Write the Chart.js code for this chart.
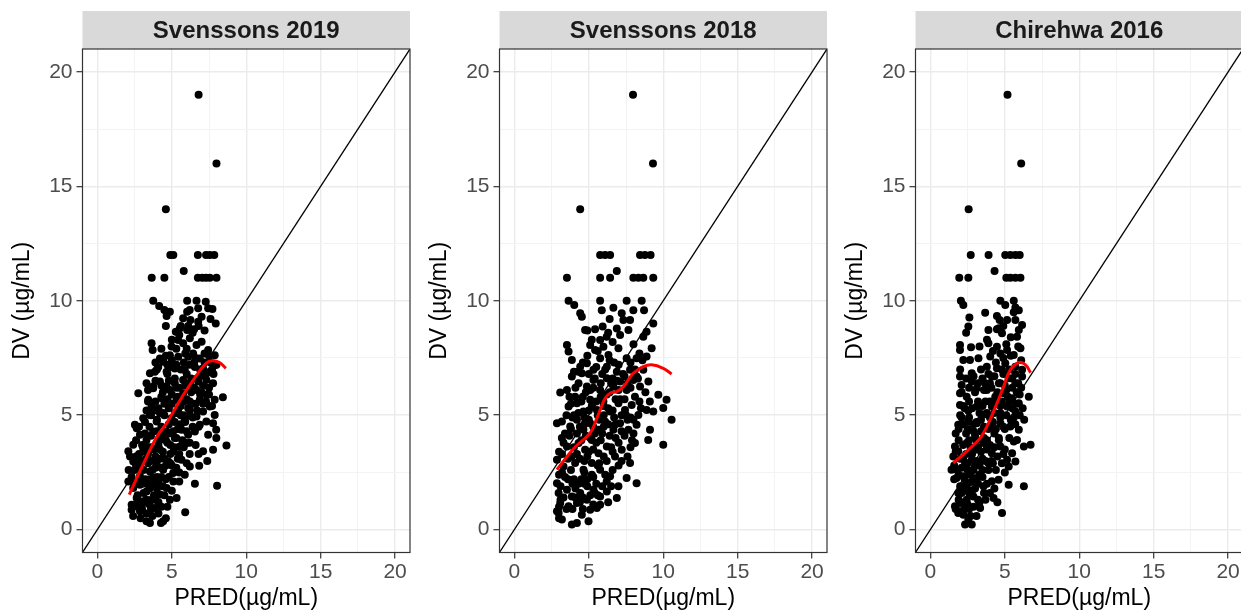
<!DOCTYPE html>
<html>
<head>
<meta charset="utf-8">
<script src="https://cdn.jsdelivr.net/npm/chart.js@4.4.1/dist/chart.umd.min.js"></script>
<style>
  html, body { margin: 0; padding: 0; background: #fff; overflow: hidden; }
  .panel { position: absolute; top: 0; }
</style>
</head>
<body>
<div class="panel" style="left:0px"><canvas id="c0" width="414" height="614"></canvas></div>
<div class="panel" style="left:417px"><canvas id="c1" width="414" height="614"></canvas></div>
<div class="panel" style="left:833px"><canvas id="c2" width="414" height="614"></canvas></div>
<script>
const panelTitles = ['Svenssons 2019', 'Svenssons 2018', 'Chirehwa 2016'];
const xTitle = 'PRED(\u00b5g/mL)';
const yTitle = 'DV (\u00b5g/mL)';
const axisRange = [-1, 21];
const gridBreaks = [0, 2.5, 5, 7.5, 10, 12.5, 15, 17.5, 20];
const majorBreaks = [0, 5, 10, 15, 20];
const tickLabels = ['0', '5', '10', '15', '20'];

// [PRED, DV]
const obsSvenssons2019 = [
  [6.8,19],[8.0,16],[4.6,14],
  [4.9,12],[5.1,12],[6.75,12],[7.3,12],[7.55,12],[7.85,12],[5.8,11.3],
  [3.65,11],[4.5,11],[6.75,11],[7.05,11],[7.3,11],[7.55,11],[8.0,11],
  [3.75,10],[4.15,9.77],[6.03,10],[6.66,10],[6.77,9.67],[7.28,9.96],[7.44,9.67],[7.73,9.64],
  [4.87,9.52],[4.65,9.33],[6.03,9.52],[5.76,9.23],[6.25,9.16],[6.77,9.08],[7.95,9.01],
  [4.6,8.9],[5.54,8.8],[6.03,8.72],[6.5,8.75],[5.27,8.65],
  [3.64,8.14],[3.71,7.85],[4.98,8.0],[5.43,8.28],[5.76,8.14],[6.21,8.36],[6.66,8.07],[7.0,8.21],[7.44,7.85],
  [4.2,7.48],[4.42,7.33],[4.09,7.11],[4.87,7.62],[5.43,7.55],[6.1,7.55],[6.43,7.69],[6.88,7.48],[7.88,7.62],
  [3.53,6.83],[3.86,6.9],[4.65,6.9],[5.2,7.04],[5.87,6.97],[6.55,7.11],[7.1,7.04],[7.55,6.9],[7.88,7.18],
  [3.3,6.4],[3.75,6.25],[4.2,6.47],[4.65,6.25],[5.2,6.4],[5.76,6.54],[6.21,6.4],[6.77,6.47],[7.32,6.54],[7.77,6.4],
  [2.75,5.96],[3.42,5.67],[3.75,6.18],[3.64,5.38],[4.31,5.74],[4.87,6.1],[5.32,5.67],[5.76,5.96],[6.21,5.6],[6.66,6.1],
  [6.88,5.67],[7.32,5.89],[7.88,5.67],[8.43,5.78],[7.55,5.38],
  [2.52,4.58],[3.08,4.87],[3.53,5.01],[3.98,4.72],[4.42,5.09],[4.98,4.87],[5.43,5.16],[5.87,4.8],[6.21,5.23],[6.66,4.94],
  [7.1,5.16],[7.32,4.72],[7.88,5.01],[7.98,4.36],[7.77,4.65],[6.88,4.58],
  [2.08,3.42],[2.41,3.71],[2.86,4.14],[3.3,3.92],[3.75,4.29],[4.2,3.92],[4.65,4.29],[5.2,4.0],[5.65,4.36],[6.1,4.14],
  [6.55,4.29],[5.54,3.63],[5.99,3.78],[7.1,3.42],[7.77,3.49],[8.67,3.68],[7.99,4.0],[7.44,4.14],[2.64,4.43],[3.08,3.56],
  [2.19,3.2],[2.1,2.6],[2.41,2.98],[2.75,2.69],[3.19,3.05],[3.53,2.54],[3.98,2.91],[4.42,2.62],[4.76,2.98],[5.09,2.47],
  [5.65,3.05],[6.21,2.76],[6.84,2.79],[7.38,3.0],[2.86,2.33],[3.75,2.25],[6.55,2.0],[8.04,1.92],[5.87,2.4],
  [2.08,2.1],[2.41,1.82],[2.86,1.96],[3.3,1.67],[3.75,1.89],[4.2,1.53],[4.65,1.82],[2.64,1.38],[3.08,1.24],[3.64,1.31],
  [4.87,1.31],[5.32,1.38],[2.3,1.09],
  [2.3,0.87],[2.86,0.8],[3.3,0.36],[3.53,0.29],[4.27,0.29],[4.42,0.36],[5.9,0.76],[3.86,0.94],[2.64,1.02],
  [2.5,2.0],[2.7,1.5],[2.9,2.7],[3.0,1.1],[3.1,3.4],[3.2,2.2],[3.3,1.3],[3.4,2.9],[3.5,1.8],[3.6,3.6],
  [3.7,2.6],[3.8,1.5],[3.9,3.2],[4.0,2.3],[4.0,4.8],[4.1,1.2],[4.2,3.5],[4.3,2.7],[4.4,4.2],[4.5,3.1],
  [4.5,5.5],[4.6,2.2],[4.7,3.8],[4.8,4.6],[4.9,3.3],[5.0,5.9],[5.0,2.8],[5.1,4.3],[5.2,3.6],[5.3,5.1],
  [5.4,4.4],[5.5,6.2],[5.6,5.0],[5.7,3.9],[5.8,5.6],[5.9,4.7],[6.0,6.8],[6.1,5.3],[6.2,3.3],[6.3,6.0],
  [6.4,4.9],[6.5,7.3],[6.6,5.5],[6.7,6.6],[6.8,4.5],[6.9,7.0],[7.0,6.0],[7.1,5.5],[7.2,7.7],[7.3,6.8],
  [7.5,6.2],[7.6,7.3],[7.8,6.8],[8.0,7.2],[4.4,6.0],[3.8,5.2],[3.5,4.5],[4.9,7.1],[5.3,7.9],[6.0,7.9],
  [3.2,4.7],[2.8,3.3],[2.6,2.8],[3.0,0.9],[3.6,0.9],[4.0,1.8],[4.7,1.0],[5.0,1.7],[5.5,2.1],[6.0,2.9],
  [5.4,3.1],[3.3,5.2],[4.2,5.1],[4.7,6.8],[5.2,6.6],[5.8,7.3],[6.4,8.6],[7.0,9.3],[5.6,8.9],[6.2,9.6],
  [4.3,7.9],[3.9,7.3],[3.4,6.1],[4.6,7.6],
  [2.4,0.6],[2.7,1.2],[2.9,0.5],[3.1,1.6],[3.3,0.7],[3.5,1.1],[3.7,0.6],[3.9,1.3],[4.1,0.7],[4.3,1.0],
  [4.5,1.5],[4.6,0.5],[2.3,2.3],[2.5,2.6],[2.6,3.2],[2.7,2.1],[2.9,3.0],[3.0,2.0],[3.1,2.6],[3.3,2.0],
  [3.4,3.3],[3.5,2.2],[3.6,3.0],[3.8,2.0],[3.9,2.7],[4.1,2.1],[4.2,3.1],[4.3,2.3],[4.4,1.9],[4.6,2.8],
  [4.8,2.3],[4.9,2.9],[5.1,2.1],[5.3,2.7],[5.5,2.5],[2.6,3.9],[2.8,4.5],[3.0,3.7],[3.2,4.2],[3.4,3.6],
  [3.6,4.1],[3.8,3.5],[4.0,4.3],[4.1,3.7],[4.3,4.5],[4.4,3.4],[4.6,3.9],[4.8,4.2],[4.9,3.7],[5.1,3.4],
  [5.3,4.0],[5.5,3.3],[5.6,4.6],[5.8,3.6],[6.0,4.3],[6.2,3.8],[6.4,4.5],[6.6,3.7],[6.8,3.3],[5.2,4.7],
  [3.4,5.6],[3.6,5.0],[3.9,5.6],[4.1,5.3],[4.3,5.8],[4.5,5.0],[4.7,5.7],[4.8,5.3],[5.0,5.5],[5.2,5.1],
  [5.4,5.8],[5.6,5.4],[5.8,5.0],[6.0,5.7],[6.2,5.0],[6.4,5.5],[6.5,6.2],[6.7,5.2],[6.9,5.9],[7.1,6.3],
  [7.3,5.6],[7.5,5.9],[7.7,5.4],[6.3,6.6],[5.9,6.3],[5.3,6.2],[4.8,6.5],[4.3,6.3],[3.9,6.5],
  [4.0,7.0],[4.4,7.4],[4.7,7.2],[5.0,7.4],[5.3,7.2],[5.6,7.0],[5.9,7.7],[6.2,7.2],[6.6,7.5],[6.9,6.7],
  [7.2,7.3],[7.5,7.6],[7.7,7.0],[5.0,8.3],[5.5,8.5],[6.1,8.9],[6.8,8.9],[7.2,8.7],[4.5,9.6],[7.6,9.2]
];

const obsSvenssons2018 = [
  [7.97,19],[9.31,16],[4.42,14],
  [5.76,12],[6.09,12],[6.43,12],[8.44,12],[8.77,12],[9.15,12],[6.88,11.3],
  [3.53,11],[5.76,11],[6.43,11],[7.99,11],[8.33,11],[8.66,11],[9.33,11],
  [3.64,10],[4.02,9.81],[5.76,10],[5.87,9.59],[6.65,9.69],[7.54,10],[7.99,9.59],[8.55,10],[8.71,9.59],
  [4.53,9.3],[4.42,9.45],[7.21,9.45],[7.32,9.16],[7.77,9.16],[5.93,8.87],[5.42,8.76],[4.75,8.72],[6.88,8.79],[7.66,8.72],
  [9.33,9.01],[8.88,8.65],[8.66,8.43],[6.2,8.43],[5.76,8.28],
  [3.53,8.07],[3.64,7.78],[5.09,8.07],[5.42,7.85],[5.98,7.99],[6.32,7.63],[5.76,7.49],[6.99,7.92],[7.54,7.49],[8.21,7.49],
  [9.22,7.92],[8.88,7.56],[3.86,7.41],[4.42,7.12],[4.87,7.27],[5.31,6.98],[6.21,7.12],[6.88,6.9],[7.77,6.98],[8.66,6.98],
  [3.86,6.69],[4.31,6.4],[3.08,5.99],[3.53,6.1],[4.08,5.81],[4.53,6.83],[4.87,6.25],[5.31,6.54],[5.76,6.1],[6.21,6.61],
  [6.65,6.25],[7.1,6.47],[7.54,6.1],[7.99,6.54],[8.44,6.25],[9.0,6.47],[9.67,5.89],[10.22,5.67],[10.0,5.31],[10.56,4.8],
  [9.33,5.16],[8.88,5.23],[9.11,4.36],[8.99,3.92],[10.0,3.71],
  [3.64,5.38],[4.2,5.52],[4.64,5.16],[5.09,5.67],[5.54,5.23],[5.98,5.6],[6.43,5.16],[6.99,5.52],[7.43,5.23],[7.88,5.45],[8.33,5.01],
  [2.86,4.65],[3.19,4.72],[3.75,4.51],[4.2,4.8],[4.64,4.36],[5.09,4.65],[5.65,4.36],[6.09,4.72],[6.65,4.36],[7.1,4.65],
  [7.66,4.36],[8.21,4.58],
  [3.19,4.0],[3.53,3.63],[3.86,3.2],[4.31,3.78],[4.75,3.49],[5.2,3.92],[5.65,3.34],[6.21,3.63],[6.76,3.2],[7.21,3.49],
  [7.77,2.91],[8.1,3.78],[2.86,3.05],[3.3,2.76],[4.08,2.91],[4.64,2.62],[5.2,2.91],[5.76,2.62],[6.43,2.33],[6.99,1.89],
  [7.54,2.25],[8.21,2.03],
  [2.86,2.03],[2.97,1.6],[3.08,1.16],[2.86,0.8],[3.53,1.74],[3.86,1.45],[4.42,1.6],[4.87,1.31],[5.31,1.74],[5.76,1.45],
  [6.21,1.67],[6.88,1.38],[5.09,0.87],[5.54,0.94],[5.76,1.09],[3.64,1.02],[4.2,1.16],
  [3.86,0.22],[4.2,0.29],[4.98,0.36],[4.53,0.65],[2.97,0.73],[3.19,0.44],
  [3.4,2.3],[3.7,4.1],[3.9,2.0],[4.0,5.0],[4.1,1.4],[4.2,3.3],[4.4,4.5],[4.5,2.2],[4.6,5.8],[4.7,3.0],
  [4.8,4.1],[4.9,1.9],[5.0,5.2],[5.0,3.4],[5.1,6.1],[5.2,2.4],[5.3,4.5],[5.4,6.6],[5.4,1.6],[5.5,3.8],
  [5.6,5.0],[5.7,2.9],[5.8,6.4],[5.9,4.2],[6.0,3.2],[6.0,5.4],[6.1,7.0],[6.2,2.1],[6.3,4.6],[6.4,6.0],
  [6.5,3.6],[6.6,5.2],[6.7,7.3],[6.8,4.0],[6.9,6.5],[7.0,2.8],[7.1,5.7],[7.2,4.3],[7.3,6.8],[7.5,5.0],
  [7.6,3.2],[7.8,6.2],[8.0,4.8],[8.2,6.7],[8.4,5.6],[8.6,7.4],[4.3,6.9],[4.9,7.6],[5.6,7.8],[6.3,8.6],
  [3.8,5.5],[3.3,3.8],[4.6,0.9],[5.3,2.3],[6.6,2.6],[7.9,3.9],[3.0,2.4],[3.1,1.3],[3.0,0.5],[4.7,2.0],
  [3.0,1.0],[3.1,1.9],[3.2,2.5],[3.3,1.4],[3.5,0.9],[3.6,2.2],[3.8,2.6],[3.9,0.9],[4.0,2.2],[4.1,1.8],
  [4.3,2.0],[4.4,1.2],[4.6,1.4],[4.7,2.5],[4.9,2.2],[5.1,1.5],[5.3,1.1],[5.5,2.0],[5.6,1.5],[5.9,1.9],
  [6.1,2.4],[6.3,1.2],[6.5,1.9],
  [3.0,3.4],[3.2,3.3],[3.4,4.2],[3.6,3.1],[3.8,4.4],[4.0,3.6],[4.2,4.2],[4.4,3.1],[4.5,3.9],[4.7,4.6],
  [4.9,3.2],[5.1,4.0],[5.3,3.5],[5.4,4.2],[5.6,2.8],[5.8,3.9],[6.0,4.5],[6.2,3.0],[6.4,4.1],[6.6,3.4],
  [6.8,4.6],[7.0,3.8],[7.2,3.0],[7.4,4.1],[7.6,4.8],[7.8,3.6],[8.0,4.2],
  [3.5,5.0],[3.7,5.8],[3.9,4.9],[4.1,6.2],[4.3,5.1],[4.5,5.6],[4.7,4.9],[4.8,6.0],[5.0,4.8],[5.2,5.4],
  [5.3,6.2],[5.5,5.6],[5.7,4.8],[5.8,5.8],[6.0,5.0],[6.2,5.9],[6.3,5.3],[6.5,6.4],[6.7,4.9],[6.8,5.7],
  [7.0,6.1],[7.2,5.0],[7.4,5.7],[7.6,6.4],[7.8,4.9],[8.1,5.8],[8.3,6.6],[8.5,5.3],[8.8,6.0],[9.1,5.6],
  [4.0,6.9],[4.6,7.3],[5.0,6.8],[5.5,7.1],[5.9,6.8],[6.4,7.4],[6.6,6.6],[7.0,7.2],[7.4,6.7],[7.8,7.3],
  [8.1,7.0],[8.4,7.7],[5.2,8.3],[6.6,8.2],[7.1,8.5],[8.0,8.1],[4.9,8.7],[6.4,9.2]
];

const obsChirehwa2016 = [
  [5.18,19],[6.1,16],[2.57,14],
  [2.71,12],[3.91,12],[5.03,12],[5.37,12],[5.71,12],[6.0,12],[4.31,11.3],
  [1.94,11],[2.55,11],[5.1,11],[5.37,11],[5.71,11],[6.05,11],
  [2.05,10],[2.21,9.81],[4.7,10],[5.03,9.81],[5.6,10],[5.71,9.71],[5.94,9.59],[3.68,9.48],[4.47,9.33],[4.65,9.16],
  [5.15,9.16],[5.71,9.16],[2.62,9.27],[2.55,8.87],[3.9,8.72],[4.47,8.75],[4.81,8.58],[5.94,8.72],[6.16,8.94],[5.82,8.43],
  [1.99,8.07],[1.99,7.85],[2.73,7.97],[2.21,7.41],[2.66,7.41],[3.23,7.49],[3.9,8.14],[4.02,7.56],[4.47,7.99],[4.7,7.7],
  [5.15,7.85],[5.6,7.63],[6.05,7.92],[3.79,7.12],[4.47,7.05],[5.03,7.27],[5.71,7.12],[6.16,6.98],
  [1.99,6.69],[2.1,6.32],[2.78,6.83],[2.78,6.47],[1.99,5.96],[2.44,5.81],[3.12,6.18],[3.68,6.4],[4.13,6.69],[4.7,6.4],
  [5.26,6.61],[5.71,6.4],[6.16,6.69],[6.61,5.81],[3.79,6.1],[4.36,5.81],[4.92,5.96],[5.49,5.74],[5.94,5.52],
  [1.99,5.45],[2.55,5.19],[3.12,5.38],[3.68,5.04],[4.13,5.38],[4.7,5.09],[5.15,5.38],[5.71,5.16],
  [1.87,4.58],[2.55,4.72],[3.12,4.65],[4.02,4.51],[4.7,4.65],[5.37,4.51],[5.94,4.36],[5.82,3.92],[5.6,3.85],[6.28,3.63],[6.73,3.71],
  [1.65,3.63],[1.54,3.2],[1.87,3.42],[2.44,3.78],[3.0,3.49],[3.57,3.78],[4.13,3.34],[4.7,3.63],[5.15,3.05],[5.49,3.34],
  [5.26,2.76],[5.71,2.98],[2.33,2.91],[2.78,3.05],
  [1.42,2.62],[1.76,2.25],[2.21,2.33],[2.55,2.03],[3.12,2.25],[3.57,1.89],[4.13,2.11],[4.58,2.18],[5.26,1.96],[6.28,1.89],
  [4.24,1.38],[3.34,0.94],[1.65,1.02],[1.99,1.16],[2.44,1.31],[2.89,1.45],[1.87,1.6],[2.44,1.74],[4.81,0.73],
  [2.33,0.22],[2.78,0.22],[2.55,0.44],[1.87,0.73],[2.21,0.65],
  [1.8,2.6],[1.9,3.9],[2.0,1.9],[2.1,4.9],[2.2,3.1],[2.3,1.2],[2.4,4.2],[2.5,2.6],[2.6,5.6],[2.7,3.6],
  [2.8,1.7],[2.9,4.6],[3.0,2.8],[3.0,6.0],[3.1,3.9],[3.2,1.3],[3.3,5.1],[3.3,2.4],[3.4,4.3],[3.5,6.6],
  [3.5,3.1],[3.6,1.6],[3.7,5.6],[3.8,3.9],[3.9,2.6],[4.0,4.9],[4.0,6.4],[4.1,3.0],[4.2,5.6],[4.3,4.2],
  [4.4,7.3],[4.4,2.6],[4.5,6.0],[4.6,4.0],[4.7,5.4],[4.8,7.0],[4.9,3.3],[5.0,6.3],[5.0,4.4],[5.1,8.1],
  [5.2,5.8],[5.3,4.0],[5.4,7.6],[5.5,6.6],[5.6,4.9],[5.8,6.0],[5.9,8.0],[6.0,5.0],[6.1,6.2],[6.3,4.8],
  [2.2,5.4],[1.7,4.2],[2.0,7.0],[3.8,8.3],[4.6,8.8],[3.1,0.6],[2.6,0.9],[4.5,1.2],[5.0,2.5],[1.6,2.2],
  [1.7,0.9],[1.9,1.3],[2.0,0.8],[2.1,1.6],[2.3,0.9],[2.4,2.0],[2.5,1.1],[2.6,1.6],[2.7,0.6],[2.8,2.1],
  [2.9,1.0],[3.0,1.8],[3.2,2.0],[3.3,1.2],[3.5,2.3],[3.7,1.3],[3.8,2.0],[4.0,1.6],[4.3,1.8],
  [1.6,2.8],[1.7,3.4],[1.9,2.4],[2.0,3.1],[2.1,2.7],[2.2,3.7],[2.3,2.2],[2.4,3.3],[2.5,2.9],[2.6,3.9],
  [2.7,2.4],[2.8,3.3],[2.9,2.6],[3.0,4.1],[3.1,3.0],[3.2,3.6],[3.3,2.8],[3.4,3.4],[3.5,2.6],[3.6,4.0],
  [3.7,3.0],[3.8,3.5],[3.9,2.9],[4.0,3.7],[4.2,2.9],[4.3,3.6],[4.5,3.2],[4.6,3.9],[4.8,2.9],[5.0,3.5],
  [1.9,4.4],[2.0,5.0],[2.2,4.6],[2.3,5.3],[2.5,4.4],[2.6,4.9],[2.8,5.3],[2.9,4.3],[3.1,4.7],[3.2,5.6],
  [3.4,4.8],[3.5,5.4],[3.6,4.5],[3.8,5.1],[3.9,4.4],[4.0,5.6],[4.2,4.7],[4.3,5.1],[4.4,4.4],[4.5,5.5],
  [4.7,4.9],[4.8,5.6],[4.9,4.5],[5.1,5.0],[5.3,5.6],[5.4,4.8],[5.5,5.3],[5.7,4.6],[5.8,5.5],[6.0,5.9],
  [6.2,5.3],
  [2.1,6.0],[2.4,6.6],[2.6,6.2],[2.9,6.7],[3.2,6.4],[3.4,7.0],[3.6,6.1],[3.9,6.8],[4.1,6.2],[4.3,6.7],
  [4.6,6.4],[4.9,6.8],[5.1,6.1],[5.3,7.0],[5.5,6.2],[5.7,6.8],[5.9,6.4],[6.1,7.4],[4.2,7.8],[4.9,7.5],
  [5.4,8.4],[5.6,9.5],[4.9,8.9],[3.3,8.0],[2.4,8.6]
];

// red smoother
const smoothSvenssons2019 = [[2.14,1.53],[3.0,2.75],[4.0,4.07],[4.65,4.65],[5.5,5.6],[6.4,6.5],[7.3,7.27],[7.75,7.38],[8.2,7.3],[8.63,7.05]];
const smoothSvenssons2018 = [[2.86,2.62],[4.0,3.55],[5.09,4.22],[5.5,4.8],[5.76,5.23],[6.1,5.74],[6.43,5.96],[6.88,6.03],[7.32,6.25],[7.99,6.83],[8.66,7.12],[9.22,7.2],[10.0,7.05],[10.56,6.8]];
const smoothChirehwa2016 = [[1.54,2.91],[2.44,3.42],[3.34,4.0],[3.9,4.65],[4.47,5.52],[4.92,6.25],[5.37,6.98],[5.94,7.3],[6.39,7.2],[6.73,6.86]];

const observations = [obsSvenssons2019, obsSvenssons2018, obsChirehwa2016];
const smoothers = [smoothSvenssons2019, smoothSvenssons2018, smoothChirehwa2016];

const FONT = '"Liberation Sans", Arial, Helvetica, sans-serif';

const stripPlugin = {
  id: 'strip',
  beforeDraw(chart, args, opts) {
    const { ctx, chartArea } = chart;
    ctx.save();
    ctx.fillStyle = '#D9D9D9';
    ctx.fillRect(chartArea.left, 11, chartArea.right - chartArea.left, chartArea.top - 11);
    ctx.fillStyle = '#1A1A1A';
    ctx.font = 'bold 24px ' + FONT;
    ctx.textAlign = 'center';
    ctx.textBaseline = 'middle';
    ctx.fillText(opts.text, (chartArea.left + chartArea.right) / 2, (11 + chartArea.top) / 2 + 1);
    ctx.restore();
  },
  afterDraw(chart) {
    const { ctx, chartArea } = chart;
    ctx.save();
    ctx.strokeStyle = '#333333';
    ctx.lineWidth = 1.2;
    ctx.strokeRect(chartArea.left, chartArea.top, chartArea.right - chartArea.left, chartArea.bottom - chartArea.top);
    ctx.restore();
  }
};

function makeAxis(title, isY) {
  return {
    type: 'linear',
    min: axisRange[0],
    max: axisRange[1],
    afterBuildTicks: (scale) => { scale.ticks = gridBreaks.map(v => ({ value: v })); },
    afterFit: (scale) => {
      if (isY) scale.width = 82.5; else scale.height = 61.5;
    },
    border: { display: false },
    grid: {
      color: (c) => majorBreaks.includes(c.tick.value) ? '#EBEBEB' : '#F3F3F3',
      lineWidth: (c) => majorBreaks.includes(c.tick.value) ? 1.4 : 1,
      tickColor: (c) => majorBreaks.includes(c.tick.value) ? '#333333' : 'rgba(0,0,0,0)',
      tickLength: 6,
      tickWidth: 1.2
    },
    ticks: {
      autoSkip: false,
      maxRotation: 0,
      padding: isY ? 4 : 1,
      color: '#4D4D4D',
      font: { family: FONT, size: 21 },
      callback: (v) => {
        const i = majorBreaks.indexOf(v);
        return i >= 0 ? tickLabels[i] : '';
      }
    },
    title: {
      display: true,
      text: title,
      color: '#000000',
      font: { family: FONT, size: 23 },
      padding: isY ? { top: 8.7, bottom: 0 } : { top: 0, bottom: 2 }
    }
  };
}

panelTitles.forEach((name, i) => {
  new Chart(document.getElementById('c' + i), {
    type: 'scatter',
    data: {
      datasets: [
        {
          type: 'line',
          data: smoothers[i].map(p => ({ x: p[0], y: p[1] })),
          borderColor: '#FF0000',
          borderWidth: 3,
          pointRadius: 0,
          tension: 0.4,
          fill: false
        },
        {
          type: 'line',
          data: [{ x: axisRange[0], y: axisRange[0] }, { x: axisRange[1], y: axisRange[1] }],
          borderColor: '#000000',
          borderWidth: 1.3,
          pointRadius: 0,
          fill: false
        },
        {
          data: observations[i].map(p => ({ x: p[0], y: p[1] })),
          backgroundColor: '#000000',
          borderWidth: 0,
          pointRadius: 4
        }
      ]
    },
    options: {
      responsive: false,
      animation: false,
      events: [],
      layout: { padding: { top: 49, right: 3.3, left: 0, bottom: 0 } },
      scales: {
        x: makeAxis(xTitle, false),
        y: makeAxis(yTitle, true)
      },
      plugins: {
        legend: { display: false },
        tooltip: { enabled: false },
        strip: { text: name }
      }
    },
    plugins: [stripPlugin]
  });
});
</script>
</body>
</html>
